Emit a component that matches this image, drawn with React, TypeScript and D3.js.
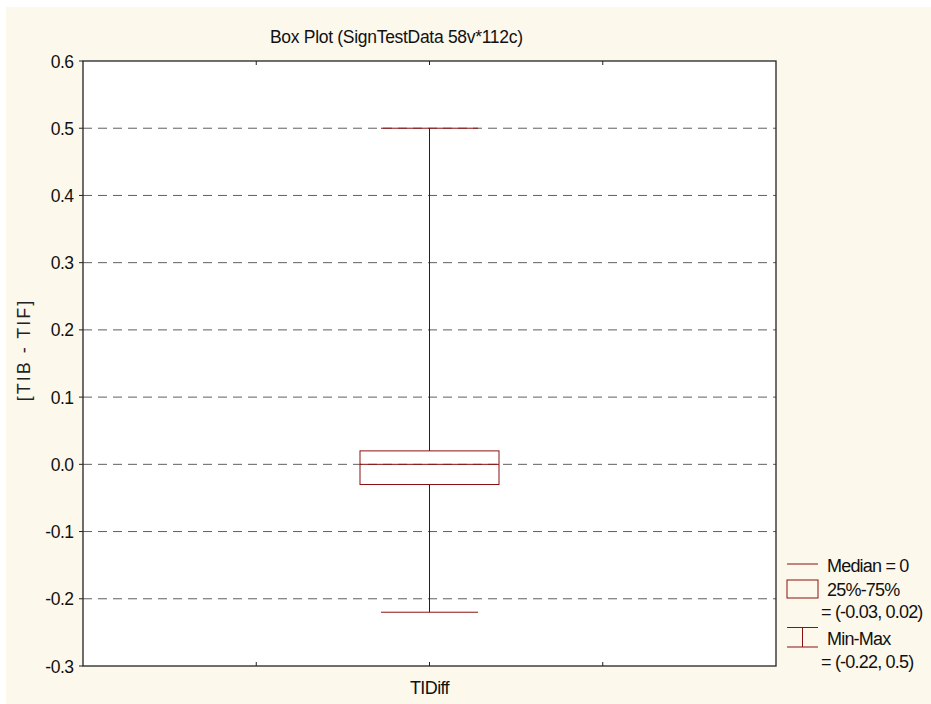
import React from "react";
import * as d3 from "d3";

const categories = ["TIDiff"];
const minValues = [-0.22];
const q1Values = [-0.03];
const medianValues = [0];
const q3Values = [0.02];
const maxValues = [0.5];
const yTicks = [-0.3, -0.2, -0.1, 0.0, 0.1, 0.2, 0.3, 0.4, 0.5, 0.6];
const gridTicks = [-0.2, -0.1, 0.0, 0.1, 0.2, 0.3, 0.4, 0.5];
const title = "Box Plot (SignTestData 58v*112c)";
const yLabel = "[TIB - TIF]";
const legendLines = ["Median = 0", "25%-75%", "= (-0.03, 0.02)", "Min-Max", "= (-0.22, 0.5)"];

const W = 931, H = 704;
const L = 83, R = 776, T = 61, B = 666;
const RED = "#8b1010";
const FONT = "'Liberation Sans', Arial, sans-serif";

export default function App() {
  const y = d3.scaleLinear().domain([-0.3, 0.6]).range([B, T]);
  const xq = d3.scaleLinear().domain([0, 4]).range([L, R]);
  const xc = (i: number) => xq(2 + i * 4);
  const boxW = 139, capW = 97;
  const fmt = (t: number) => (Math.abs(t) < 1e-9 ? "0.0" : t.toFixed(1));
  const lg = { fontSize: 18, letterSpacing: -0.8, fill: "#111" };
  return (
    <svg width={W} height={H} style={{ position: "absolute", left: 0, top: 0 }} fontFamily={FONT}>
      <rect x={6} y={7} width={W - 6} height={H - 7} fill="#fdf8ec" />
      <rect x={L} y={T} width={R - L} height={B - T} fill="#ffffff" />
      {gridTicks.map((t) => (
        <line key={t} x1={L} x2={R} y1={y(t)} y2={y(t)} stroke="#5f5f5f" strokeWidth={1} strokeDasharray="9,6" />
      ))}
      {categories.map((c, i) => {
        const cx = xc(i);
        return (
          <g key={c}>
            <line x1={cx} x2={cx} y1={y(maxValues[i])} y2={y(q3Values[i])} stroke="#5a0808" strokeWidth={1} />
            <line x1={cx} x2={cx} y1={y(q1Values[i])} y2={y(minValues[i])} stroke="#5a0808" strokeWidth={1} />
            <line x1={cx - capW / 2} x2={cx + capW / 2} y1={y(maxValues[i])} y2={y(maxValues[i])} stroke={RED} strokeWidth={1} />
            <line x1={cx - capW / 2} x2={cx + capW / 2} y1={y(minValues[i])} y2={y(minValues[i])} stroke={RED} strokeWidth={1} />
            <rect x={cx - boxW / 2} y={y(q3Values[i])} width={boxW} height={y(q1Values[i]) - y(q3Values[i])} fill="none" stroke={RED} strokeWidth={1} />
            <line x1={cx - boxW / 2} x2={cx + boxW / 2} y1={y(medianValues[i])} y2={y(medianValues[i])} stroke={RED} strokeWidth={1} />
            <text x={cx} y={694} textAnchor="middle" fontSize={18} letterSpacing={-0.6} fill="#111">{c}</text>
          </g>
        );
      })}
      <rect x={L} y={T} width={R - L} height={B - T} fill="none" stroke="#222" strokeWidth={1.3} />
      {[1, 2, 3].map((k) => (
        <g key={k}>
          <line x1={xq(k)} x2={xq(k)} y1={T} y2={T + 4} stroke="#222" />
          <line x1={xq(k)} x2={xq(k)} y1={B} y2={B - 4} stroke="#222" />
        </g>
      ))}
      {yTicks.map((t) => (
        <g key={t}>
          <line x1={L - 4} x2={L} y1={y(t)} y2={y(t)} stroke="#222" />
          <text x={73.5} y={y(t) + 6.5} textAnchor="end" fontSize={17.5} letterSpacing={-0.5} fill="#111">{fmt(t)}</text>
        </g>
      ))}
      <text x={270} y={43} fontSize={17.5} letterSpacing={-0.3} fill="#111">{title}</text>
      <text transform={`translate(30,350) rotate(-90)`} textAnchor="middle" fontSize={18} letterSpacing={2} fill="#222">{yLabel}</text>
      {/* legend */}
      <line x1={787} x2={818} y1={564} y2={564} stroke={RED} />
      <text x={827} y={572} {...lg}>{legendLines[0]}</text>
      <rect x={787} y={580} width={31} height={18} fill="none" stroke={RED} />
      <text x={827} y={596} {...lg}>{legendLines[1]}</text>
      <text x={821} y={618} {...lg}>{legendLines[2]}</text>
      <line x1={787} x2={818} y1={627.5} y2={627.5} stroke={RED} />
      <line x1={787} x2={818} y1={647} y2={647} stroke={RED} />
      <line x1={802.5} x2={802.5} y1={627.5} y2={647} stroke={RED} />
      <text x={827} y={645} {...lg}>{legendLines[3]}</text>
      <text x={821} y={668} {...lg}>{legendLines[4]}</text>
    </svg>
  );
}
